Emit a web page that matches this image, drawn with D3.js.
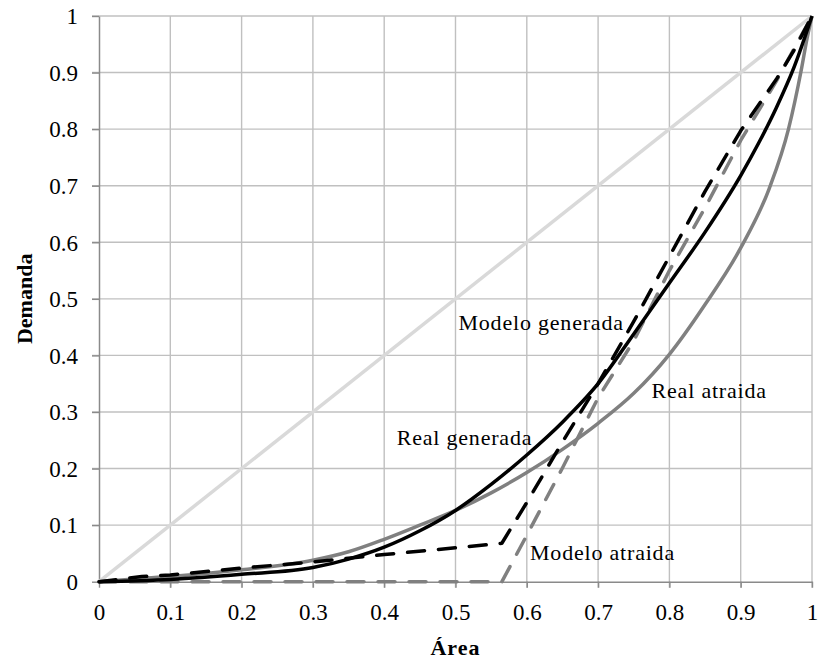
<!DOCTYPE html>
<html>
<head>
<meta charset="utf-8">
<script src="https://cdn.jsdelivr.net/npm/d3@7"></script>
<style>
  body { margin: 0; background: #fff; }
  svg { display: block; font-family: "Liberation Serif", "Times New Roman", serif; }
</style>
</head>
<body>
<div id="chart"></div>
<script>
// Tick values
const xTicks = [0, 0.1, 0.2, 0.3, 0.4, 0.5, 0.6, 0.7, 0.8, 0.9, 1];
const yTicks = [0, 0.1, 0.2, 0.3, 0.4, 0.5, 0.6, 0.7, 0.8, 0.9, 1];

// Series: [area, demanda] pairs
const equidad = [[0, 0], [1, 1]];

const realAtraida = [
  [0, 0], [0.05, 0.005], [0.1, 0.009], [0.2, 0.021], [0.3, 0.038], [0.35, 0.053],
  [0.4, 0.075], [0.45, 0.1], [0.5, 0.126], [0.55, 0.157], [0.6, 0.193], [0.65, 0.234],
  [0.7, 0.28], [0.75, 0.333], [0.8, 0.402], [0.85, 0.49], [0.9, 0.59], [0.94, 0.695],
  [0.967, 0.8], [0.985, 0.905], [0.993, 0.96], [1, 1]
];

const realGenerada = [
  [0, 0], [0.1, 0.004], [0.2, 0.013], [0.3, 0.025], [0.35, 0.04], [0.4, 0.061],
  [0.45, 0.09], [0.5, 0.126], [0.55, 0.172], [0.6, 0.224], [0.65, 0.282], [0.7, 0.35],
  [0.75, 0.438], [0.8, 0.528], [0.85, 0.618], [0.9, 0.718], [0.925, 0.775], [0.95, 0.838],
  [0.975, 0.91], [1, 1]
];

const modeloGenerada = [
  [0, 0], [0.06, 0.009], [0.1, 0.012], [0.2, 0.024], [0.3, 0.035], [0.4, 0.048],
  [0.5, 0.06], [0.565, 0.068], [0.6, 0.14], [0.65, 0.247], [0.7, 0.35], [0.75, 0.46],
  [0.8, 0.575], [0.85, 0.69], [0.9, 0.797], [0.95, 0.888], [0.975, 0.94], [1, 1]
];

const modeloAtraida = [
  [0, 0], [0.565, 0], [0.6, 0.082], [0.65, 0.201], [0.7, 0.325], [0.75, 0.426],
  [0.8, 0.55], [0.85, 0.661], [0.9, 0.78], [0.95, 0.885], [1, 1]
];

// Annotations (data coords of text anchor)
const labels = [
  { text: 'Modelo generada', x: 0.736, y: 0.445, anchor: 'end' },
  { text: 'Real generada', x: 0.4175, y: 0.2417, anchor: 'start' },
  { text: 'Real atraida', x: 0.775, y: 0.324, anchor: 'start' },
  { text: 'Modelo atraida', x: 0.6045, y: 0.038, anchor: 'start' }
];

const width = 819;
const height = 660;
const margin = { top: 16, right: 7, bottom: 78.3, left: 99 };

const svg = d3.select('#chart')
  .append('svg')
  .attr('width', width)
  .attr('height', height);

const x = d3.scaleLinear()
  .domain([0, 1])
  .range([margin.left, width - margin.right]);

const y = d3.scaleLinear()
  .domain([0, 1])
  .range([height - margin.bottom, margin.top]);

const gridColor = '#c0c0c0';
const axisColor = '#8a8a8a';

// Grid
svg.append('g')
  .selectAll('line')
  .data(xTicks.slice(1))
  .enter()
  .append('line')
  .attr('x1', d => x(d))
  .attr('x2', d => x(d))
  .attr('y1', y(0) + 6)
  .attr('y2', y(1))
  .attr('stroke', gridColor)
  .attr('stroke-width', 1.4);

svg.append('g')
  .selectAll('line')
  .data(yTicks.slice(1))
  .enter()
  .append('line')
  .attr('x1', x(0) - 7)
  .attr('x2', x(1))
  .attr('y1', d => y(d))
  .attr('y2', d => y(d))
  .attr('stroke', gridColor)
  .attr('stroke-width', 1.4);

// Axes
const xAxis = svg.append('g')
  .attr('transform', `translate(0,${y(0)})`)
  .call(d3.axisBottom(x).tickValues(xTicks).tickFormat(d3.format('')).tickSize(6).tickSizeOuter(0));

const yAxis = svg.append('g')
  .attr('transform', `translate(${x(0)},0)`)
  .call(d3.axisLeft(y).tickValues(yTicks).tickFormat(d3.format('')).tickSize(7).tickSizeOuter(0).tickPadding(14));

[xAxis, yAxis].forEach(g => {
  g.select('.domain').attr('stroke', axisColor).attr('stroke-width', 1.5);
  g.selectAll('.tick line').attr('stroke', axisColor).attr('stroke-width', 1.4);
  g.selectAll('text')
    .attr('fill', '#000')
    .style('font-family', '"Liberation Serif", "Times New Roman", serif')
    .style('font-size', '23px');
});

xAxis.selectAll('text').attr('y', 38).attr('dy', 0);
yAxis.selectAll('text').attr('dy', '0.34em');

// Lines
const smooth = d3.line()
  .x(d => x(d[0]))
  .y(d => y(d[1]))
  .curve(d3.curveMonotoneX);

const straight = d3.line()
  .x(d => x(d[0]))
  .y(d => y(d[1]));

const series = [
  { data: equidad, color: '#d9d9d9', dash: null, line: straight },
  { data: realAtraida, color: '#808080', dash: null, line: smooth },
  { data: modeloAtraida, color: '#808080', dash: '17 14', line: straight },
  { data: realGenerada, color: '#000', dash: null, line: smooth },
  { data: modeloGenerada, color: '#000', dash: '17 14', line: straight }
];

series.forEach(s => {
  svg.append('path')
    .datum(s.data)
    .attr('fill', 'none')
    .attr('stroke', s.color)
    .attr('stroke-width', 3.5)
    .attr('stroke-linejoin', 'round')
    .attr('stroke-linecap', s.dash ? 'round' : 'butt')
    .attr('stroke-dasharray', s.dash)
    .attr('d', s.line);
});

// Annotations
svg.append('g')
  .selectAll('text')
  .data(labels)
  .enter()
  .append('text')
  .attr('x', d => x(d.x))
  .attr('y', d => y(d.y))
  .attr('text-anchor', d => d.anchor)
  .style('font-size', '22px')
  .style('letter-spacing', '0.8px')
  .attr('fill', '#000')
  .text(d => d.text);

// Axis titles
svg.append('text')
  .attr('x', (x(0) + x(1)) / 2)
  .attr('y', 655)
  .attr('text-anchor', 'middle')
  .style('font-size', '22px')
  .style('font-weight', 'bold')
  .style('letter-spacing', '1px')
  .text('Área');

svg.append('text')
  .attr('transform', `translate(32,${(y(0) + y(1)) / 2}) rotate(-90)`)
  .attr('text-anchor', 'middle')
  .style('font-size', '22px')
  .style('font-weight', 'bold')
  .text('Demanda');
</script>
</body>
</html>
